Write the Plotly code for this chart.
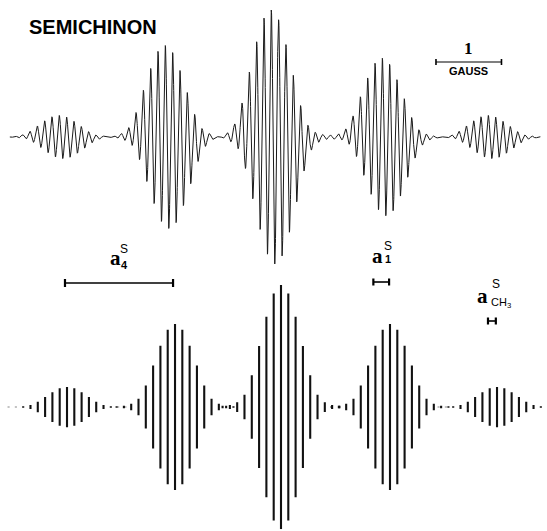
import numpy as np
import plotly.graph_objects as go

# ---- data (field in gauss) ----
FIELD_RANGE_G = [0.0, 8.351]

# stick spectrum: five proton-quintet groups, each split into a fine pattern
STICK_GROUP_CENTERS_G = [1.023, 2.672, 4.290, 5.954, 7.588]
STICK_GROUP_AMPS = [0.165, 0.68, 1.0, 0.68, 0.165]
LINE_INDEX = [-8, -7, -6, -5, -4, -3, -2, -1, 0, 1, 2, 3, 4, 5, 6, 7, 8]
LINE_SPACING_G = 0.1115
# relative intensity of the fine lines by |index| from the group centre
ENVELOPE = [1.0, 0.93, 0.74, 0.50, 0.26, 0.10, 0.04, 0.016, 0.01]

# recorded derivative spectrum
TOP_GROUP_CENTERS_G = [0.931, 2.550, 4.168, 5.863, 7.481]
TOP_GROUP_AMPS = [0.17, 0.72, 1.0, 0.62, 0.17]
LINEWIDTH_G = 0.028
TRACE_FIELD_G = [0.15, 8.25]

# hyperfine splittings (gauss)
A4_G = 1.65
A1_G = 0.24
ACH3_G = 0.12
A4_START_G = 0.992
A1_START_G = 5.70
ACH3_START_G = 7.45
GAUSS_BAR_START_G = 6.656
GAUSS_BAR_LEN_G = 1.0

W, H = 547, 531


def px(xp, yp):
    return xp / W, 1 - yp / H


# ---- stick positions/heights ----
stick_x, stick_y = [], []
for c, a in zip(STICK_GROUP_CENTERS_G, STICK_GROUP_AMPS):
    for k in LINE_INDEX:
        h = a * ENVELOPE[abs(k)]
        pos = c + k * LINE_SPACING_G
        stick_x += [pos, pos, None]
        stick_y += [-h, h, None]

# ---- derivative trace built from the top line list ----
field = np.linspace(TRACE_FIELD_G[0], TRACE_FIELD_G[1], 6000)
deriv = np.zeros_like(field)
for c, a in zip(TOP_GROUP_CENTERS_G, TOP_GROUP_AMPS):
    for k in LINE_INDEX:
        x0 = c + k * LINE_SPACING_G
        inten = a * ENVELOPE[abs(k)]
        d = field - x0
        deriv += -inten * d / LINEWIDTH_G**2 * np.exp(-d**2 / (2 * LINEWIDTH_G**2))
deriv = deriv / np.abs(deriv).max()

fig = go.Figure()
fig.add_trace(go.Scatter(x=field, y=deriv, mode="lines",
                         line=dict(color="#1a1a1a", width=1),
                         xaxis="x", yaxis="y", hoverinfo="skip"))
fig.add_trace(go.Scatter(x=stick_x, y=stick_y, mode="lines",
                         line=dict(color="#111111", width=2.1),
                         xaxis="x2", yaxis="y2", hoverinfo="skip"))

ax = dict(visible=False, showgrid=False, zeroline=False, fixedrange=True)
fig.update_layout(
    width=W, height=H,
    margin=dict(l=0, r=0, t=0, b=0),
    paper_bgcolor="white", plot_bgcolor="white",
    showlegend=False,
    xaxis=dict(range=FIELD_RANGE_G, domain=[0, 1], anchor="y", **ax),
    yaxis=dict(range=[-1.012, 1.079], domain=[0.5, 1.0], anchor="x", **ax),
    xaxis2=dict(range=FIELD_RANGE_G, domain=[0, 1], anchor="y2", **ax),
    yaxis2=dict(range=[-1.016, 1.160], domain=[0.0, 0.5], anchor="x2", **ax),
)

shapes = []


def bar(xref, x0, length, ypx, cap=8, lw=1.6, cw=2.2):
    y = 1 - ypx / H
    dy = cap / 2 / H
    shapes.append(dict(type="line", xref=xref, yref="paper", x0=x0, x1=x0 + length,
                       y0=y, y1=y, line=dict(color="black", width=lw)))
    for xx in (x0, x0 + length):
        shapes.append(dict(type="line", xref=xref, yref="paper", x0=xx, x1=xx,
                           y0=y - dy, y1=y + dy, line=dict(color="black", width=cw)))


bar("x", GAUSS_BAR_START_G, GAUSS_BAR_LEN_G, 62, cap=6, lw=1.2, cw=1.6)
bar("x2", A4_START_G, A4_G, 283, cap=8)
bar("x2", A1_START_G, A1_G, 282, cap=7)
bar("x2", ACH3_START_G, ACH3_G, 321, cap=7)
fig.update_layout(shapes=shapes)

SANS = "Liberation Sans, Arial, sans-serif"
SERIF = "Liberation Serif, Times New Roman, serif"


def label(text, xp, yp, size, family, bold=True, xanchor="center"):
    x, y = px(xp, yp)
    t = f"<b>{text}</b>" if bold else text
    fig.add_annotation(x=x, y=y, xref="paper", yref="paper", text=t,
                       showarrow=False, xanchor=xanchor, yanchor="middle",
                       font=dict(size=size, family=family, color="black"))


label("SEMICHINON", 93, 27, 20, SANS)
label("1", 468, 49, 17, SERIF)
label("GAUSS", 468.5, 71, 11, SANS)

# a4 label
label("a", 115, 258, 21, SERIF)
label("S", 124, 249, 12, SANS, bold=False)
label("4", 124, 265, 11, SANS)
# a1 label
label("a", 377, 256, 21, SERIF)
label("S", 387.5, 246, 12, SANS, bold=False)
label("1", 387.5, 259, 11, SANS)
# aCH3 label
label("a", 482, 296, 21, SERIF)
label("S", 496, 284, 12, SANS, bold=False)
label("CH<sub>3</sub>", 489, 303, 11, SANS, bold=False, xanchor="left")

fig.write_html("out.html")
